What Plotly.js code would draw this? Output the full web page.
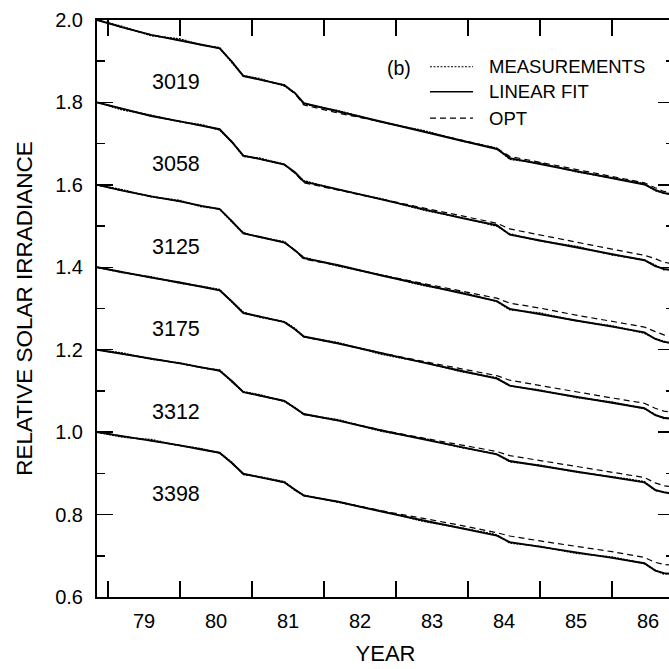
<!DOCTYPE html>
<html><head><meta charset="utf-8">
<script src="https://cdn.plot.ly/plotly-3.0.1.min.js"></script>
<style>html,body{margin:0;padding:0;overflow:hidden;background:#fff}#chart{width:680px;height:669px}</style>
</head><body><div id="chart"></div>
<script>
// time (decimal year, 19xx)
const years = [78.85, 79.2, 79.6, 80.0, 80.3, 80.55, 80.72, 80.88, 81.1, 81.45, 81.6, 81.72, 82.2, 82.8, 83.4, 83.9, 84.4, 84.58, 85.0, 85.5, 86.0, 86.45, 86.6, 86.72, 86.8];
const wavelengths = ['3019', '3058', '3125', '3175', '3312', '3398'];

// LINEAR FIT (plotted values, each wavelength offset by 0.2)
const fit3019 = [2.000,1.982,1.964,1.951,1.940,1.931,1.899,1.864,1.856,1.842,1.822,1.798,1.778,1.753,1.729,1.708,1.687,1.665,1.651,1.634,1.616,1.601,1.588,1.580,1.578];
const fit3058 = [1.800,1.784,1.767,1.754,1.744,1.735,1.704,1.671,1.663,1.649,1.630,1.608,1.589,1.564,1.540,1.520,1.502,1.479,1.465,1.449,1.432,1.417,1.403,1.396,1.394];
const fit3125 = [1.600,1.586,1.572,1.560,1.549,1.541,1.512,1.482,1.474,1.460,1.441,1.422,1.405,1.380,1.357,1.338,1.318,1.299,1.287,1.271,1.256,1.242,1.226,1.219,1.217];
const fit3175 = [1.400,1.388,1.375,1.363,1.353,1.344,1.317,1.289,1.281,1.267,1.249,1.232,1.215,1.191,1.168,1.149,1.130,1.113,1.101,1.086,1.071,1.058,1.041,1.035,1.033];
const fit3312 = [1.200,1.190,1.179,1.167,1.157,1.149,1.124,1.097,1.089,1.076,1.058,1.044,1.028,1.004,0.982,0.964,0.946,0.930,0.918,0.904,0.891,0.878,0.860,0.854,0.852];
const fit3398 = [1.000,0.990,0.980,0.968,0.958,0.950,0.925,0.899,0.891,0.878,0.860,0.846,0.831,0.807,0.785,0.767,0.749,0.733,0.722,0.708,0.695,0.682,0.664,0.658,0.656];

// OPT model
const opt3019 = [2.000,1.982,1.964,1.951,1.940,1.931,1.899,1.864,1.856,1.842,1.820,1.794,1.774,1.753,1.729,1.709,1.689,1.669,1.655,1.638,1.620,1.605,1.593,1.584,1.582];
const opt3058 = [1.800,1.784,1.767,1.754,1.744,1.735,1.704,1.671,1.663,1.649,1.628,1.605,1.587,1.565,1.542,1.524,1.507,1.493,1.478,1.461,1.444,1.429,1.421,1.412,1.410];
const opt3125 = [1.600,1.586,1.572,1.560,1.549,1.541,1.512,1.482,1.474,1.460,1.440,1.420,1.404,1.381,1.360,1.343,1.325,1.313,1.301,1.284,1.269,1.255,1.244,1.236,1.234];
const opt3175 = [1.400,1.388,1.375,1.363,1.353,1.344,1.317,1.289,1.281,1.267,1.249,1.231,1.215,1.192,1.171,1.154,1.137,1.126,1.114,1.098,1.083,1.070,1.058,1.051,1.049];
const opt3312 = [1.200,1.190,1.179,1.167,1.157,1.149,1.124,1.097,1.089,1.076,1.058,1.043,1.028,1.005,0.985,0.969,0.953,0.943,0.931,0.916,0.903,0.890,0.877,0.870,0.868];
const opt3398 = [1.000,0.990,0.980,0.968,0.958,0.950,0.925,0.899,0.891,0.878,0.860,0.846,0.831,0.809,0.790,0.774,0.756,0.748,0.736,0.723,0.710,0.696,0.684,0.679,0.678];

// MEASUREMENTS
const meas3019 = [2.000,1.984,1.962,1.954,1.939,1.933,1.897,1.865,1.858,1.840,1.823,1.796,1.780,1.752,1.731,1.707,1.689,1.662,1.653,1.632,1.617,1.603,1.586,1.581,1.577];
const meas3058 = [1.800,1.782,1.769,1.753,1.746,1.733,1.705,1.669,1.665,1.650,1.628,1.610,1.588,1.566,1.538,1.521,1.500,1.481,1.464,1.451,1.430,1.418,1.405,1.394,1.395];
const meas3125 = [1.600,1.588,1.571,1.562,1.547,1.542,1.510,1.484,1.473,1.462,1.440,1.424,1.403,1.381,1.355,1.340,1.317,1.297,1.289,1.270,1.258,1.240,1.227,1.221,1.216];
const meas3175 = [1.400,1.387,1.377,1.361,1.354,1.346,1.316,1.291,1.279,1.268,1.251,1.231,1.217,1.189,1.169,1.147,1.132,1.112,1.102,1.084,1.073,1.057,1.043,1.033,1.034];
const meas3312 = [1.200,1.192,1.177,1.168,1.156,1.151,1.122,1.098,1.091,1.074,1.059,1.043,1.030,1.002,0.984,0.963,0.947,0.928,0.920,0.903,0.892,0.880,0.858,0.855,0.851];
const meas3398 = [1.000,0.988,0.982,0.967,0.960,0.949,0.927,0.897,0.892,0.880,0.858,0.847,0.830,0.809,0.783,0.768,0.751,0.731,0.723,0.706,0.697,0.681,0.665,0.656,0.657];

const yearTicks = [79, 80, 81, 82, 83, 84, 85, 86];
const yearLabels = ['79', '80', '81', '82', '83', '84', '85', '86'];

const fits = [fit3019, fit3058, fit3125, fit3175, fit3312, fit3398];
const opts = [opt3019, opt3058, opt3125, opt3175, opt3312, opt3398];
const meas = [meas3019, meas3058, meas3125, meas3175, meas3312, meas3398];

const FONT = 'Liberation Sans, Arial, Helvetica, sans-serif';
const traces = [];
const annotations = [];
wavelengths.forEach((w, i) => {
  traces.push({x: years, y: opts[i], mode: 'lines', name: 'OPT ' + w, showlegend: false,
    line: {color: '#000', width: 1.2, dash: '6px,4px'}, hoverinfo: 'skip'});
  traces.push({x: years, y: fits[i], mode: 'lines', name: 'LINEAR FIT ' + w, showlegend: false,
    line: {color: '#000', width: 1.9}, hoverinfo: 'skip'});
  traces.push({x: years, y: meas[i], mode: 'lines', name: 'MEASUREMENTS ' + w, showlegend: false,
    line: {color: '#000', width: 1.5, dash: '2px,1px'}, hoverinfo: 'skip'});
  annotations.push({x: 79.944, y: fits[i][0] - 0.15, xref: 'x', yref: 'y', text: w, showarrow: false,
    font: {family: FONT, size: 21.5, color: '#000'}});
});
// dummy trace so the label axis is drawn
traces.push({x: [], y: [], xaxis: 'x2', yaxis: 'y', showlegend: false, hoverinfo: 'skip', mode: 'lines'});

// legend (drawn manually)
const legItems = [
  {text: 'MEASUREMENTS', y: 0.919, dash: '2px,1.5px', width: 1},
  {text: 'LINEAR FIT', y: 0.8757, dash: 'solid', width: 1.6},
  {text: 'OPT', y: 0.830, dash: '6px,4px', width: 1.3}
];
const shapes = [];
legItems.forEach(it => {
  shapes.push({type: 'line', xref: 'paper', yref: 'paper', x0: 0.5771, x1: 0.6516, y0: it.y, y1: it.y,
    line: {color: '#000', width: it.width, dash: it.dash}});
  annotations.push({xref: 'paper', yref: 'paper', x: 0.6759, y: it.y, xanchor: 'left', yanchor: 'middle',
    text: it.text, showarrow: false, font: {family: FONT, size: 18.5, color: '#000'}});
});
annotations.push({xref: 'paper', yref: 'paper', x: 0.5234, y: 0.9168, xanchor: 'center', yanchor: 'middle',
  text: '(b)', showarrow: false, font: {family: FONT, size: 19.5, color: '#000'}});

const xr = [78.847, 86.861];
const layout = {
  width: 680, height: 669,
  margin: {l: 97, r: 6, t: 20, b: 72},
  paper_bgcolor: '#fff', plot_bgcolor: '#fff',
  font: {family: FONT, color: '#000'},
  showlegend: false,
  xaxis: {range: xr, tickmode: 'array', tickvals: yearTicks, showticklabels: false,
    ticks: 'inside', ticklen: 16, tickwidth: 1.5, tickcolor: '#000',
    showline: true, linewidth: 2, linecolor: '#000', mirror: 'ticks',
    showgrid: false, zeroline: false},
  xaxis2: {range: xr, overlaying: 'x', anchor: 'y', side: 'bottom', tickmode: 'array',
    tickvals: yearTicks.map(v => v + 0.5), ticktext: yearLabels, ticks: '',
    showline: false, showgrid: false, zeroline: false, ticklabelstandoff: 10,
    tickfont: {family: FONT, size: 20, color: '#000'},
    title: {text: 'YEAR', font: {family: FONT, size: 22, color: '#000'}, standoff: 14}},
  yaxis: {range: [0.6, 2.0], tickmode: 'linear', tick0: 0.6, dtick: 0.2, tickformat: '.1f',
    ticks: 'inside', ticklen: 16, tickwidth: 1.5, tickcolor: '#000',
    minor: {dtick: 0.1, tick0: 0.6, ticks: 'inside', ticklen: 8, tickwidth: 1.5, tickcolor: '#000'},
    showline: true, linewidth: 2, linecolor: '#000', mirror: 'ticks',
    showgrid: false, zeroline: false, ticklabelstandoff: 8,
    tickfont: {family: FONT, size: 20, color: '#000'},
    title: {text: 'RELATIVE SOLAR IRRADIANCE', font: {family: FONT, size: 22.5, color: '#000'}, standoff: 16}},
  shapes: shapes,
  annotations: annotations
};
Plotly.newPlot('chart', traces, layout, {displayModeBar: false, staticPlot: true});
</script></body></html>
